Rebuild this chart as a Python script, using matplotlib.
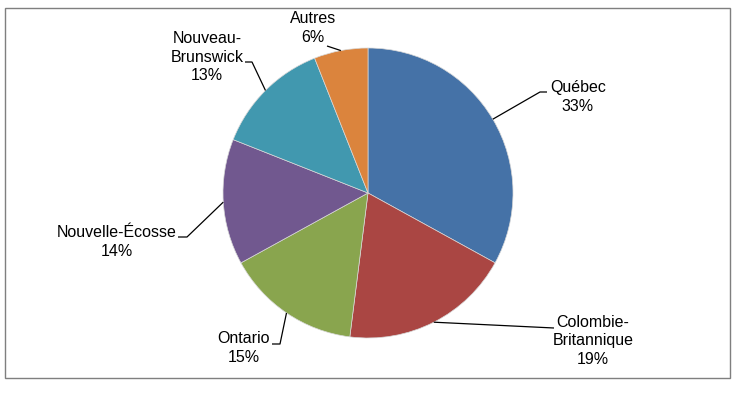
import matplotlib.pyplot as plt
from matplotlib.patches import Rectangle
import numpy as np

plt.rcParams['font.family'] = ['Liberation Sans', 'DejaVu Sans']

labels = ['Québec', 'Colombie-\nBritannique', 'Ontario', 'Nouvelle-Écosse',
          'Nouveau-\nBrunswick', 'Autres']
shares = [33, 19, 15, 14, 13, 6]
colors = ['#4572A7', '#AA4643', '#89A54E', '#71588F', '#4198AF', '#DB843D']

W, H = 737, 398
# label layout in pixel coords (top-left origin): text centre, leader path
text_pos = [(578, 97), (593, 341), (244, 348), (117, 242), (207, 57), (313, 28)]
leader_pts = [[(540, 92), (547, 92)], [(554, 328)], [(280, 344), (272, 344)],
              [(187, 237), (178, 237)], [(252, 62), (245, 62)], [(327, 46)]]

fig = plt.figure(figsize=(W / 100, H / 100), dpi=100)
ax = fig.add_axes([0, 0, 1, 1])

cx, cy, r = 368, H - 193, 145
wedges, _ = ax.pie(shares, colors=colors, startangle=90, counterclock=False,
                   center=(cx, cy), radius=r, frame=True,
                   wedgeprops=dict(edgecolor='#d8d8d8', linewidth=0.5))
ax.set_xlim(0, W)
ax.set_ylim(0, H)
ax.axis('off')

for w, lab, v, tp, pts in zip(wedges, labels, shares, text_pos, leader_pts):
    ang = np.deg2rad((w.theta1 + w.theta2) / 2)
    sx, sy = cx + r * np.cos(ang), cy + r * np.sin(ang)
    xs = [sx] + [p[0] for p in pts]
    ys = [sy] + [H - p[1] for p in pts]
    ax.plot(xs, ys, color='black', lw=0.9, solid_capstyle='butt')
    ax.text(tp[0], H - tp[1], f'{lab}\n{v}%', ha='center', va='center',
            fontsize=11.5, color='black', linespacing=1.3)

ax.add_patch(Rectangle((5, H - 378), 725, 370, fill=False, edgecolor='#7f7f7f',
                       lw=1.0))

fig.savefig('out.png', dpi=100)
